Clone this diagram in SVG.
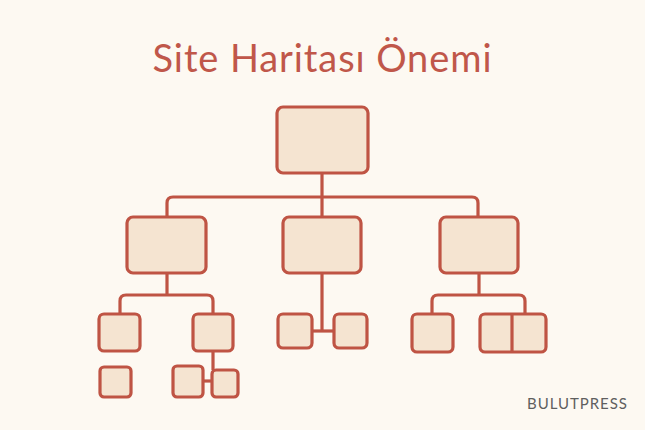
<svg xmlns="http://www.w3.org/2000/svg" width="645" height="430" viewBox="0 0 645 430">
<style>
.n{fill:#f5e4d1;stroke:#bf5444;stroke-width:3.2}
.c{fill:none;stroke:#bf5444;stroke-width:3.2;stroke-linejoin:round}
.t{font-family:Lato,"Noto Sans",sans-serif;fill:#c0574a}
</style>
<rect width="645" height="430" fill="#fdf9f2"/>
<text class="t" x="322" y="72" font-size="38" text-anchor="middle" textLength="339">Site Haritası Önemi</text>
<g id="connectors">
<path class="c" d="M322 173V217"/>
<path class="c" d="M167 217V203Q167 197 173 197H472Q478 197 478 203V217"/>
<path class="c" d="M167 273V295"/>
<path class="c" d="M120 314V301Q120 295 126 295H207Q213 295 213 301V314"/>
<path class="c" d="M213 351V370"/>
<path class="c" d="M203 381H212"/>
<path class="c" d="M322 273V331"/>
<path class="c" d="M312 331H334"/>
<path class="c" d="M479 273V295"/>
<path class="c" d="M432 314V301Q432 295 438 295H519Q525 295 525 301V314"/>
</g>
<g id="root"><rect class="n" x="277" y="107" width="91" height="66" rx="6"/></g>
<g id="left"><rect class="n" x="127" y="217" width="79" height="56" rx="6"/></g>
<g id="middle"><rect class="n" x="283" y="217" width="78" height="56" rx="6"/></g>
<g id="right"><rect class="n" x="440" y="217" width="78" height="56" rx="6"/></g>
<g id="l1"><rect class="n" x="99" y="314" width="41" height="37" rx="5"/></g>
<g id="l2"><rect class="n" x="193" y="314" width="40" height="37" rx="5"/></g>
<g id="l3"><rect class="n" x="100" y="367" width="31" height="30" rx="4"/></g>
<g id="l4"><rect class="n" x="173" y="366" width="30" height="31" rx="4"/></g>
<g id="l5"><rect class="n" x="212" y="370" width="26" height="27" rx="4"/></g>
<g id="m1"><rect class="n" x="278" y="314" width="34" height="34" rx="5"/></g>
<g id="m2"><rect class="n" x="334" y="314" width="33" height="34" rx="5"/></g>
<g id="r1"><rect class="n" x="412" y="314" width="41" height="38" rx="5"/></g>
<g id="r2"><rect class="n" x="480" y="314" width="66" height="38" rx="5"/><path class="c" d="M512 314V352"/></g>
<text x="527" y="409" font-family="Lato,'Noto Sans',sans-serif" font-size="15" fill="#5f5f5f" textLength="100">BULUTPRESS</text>
</svg>
